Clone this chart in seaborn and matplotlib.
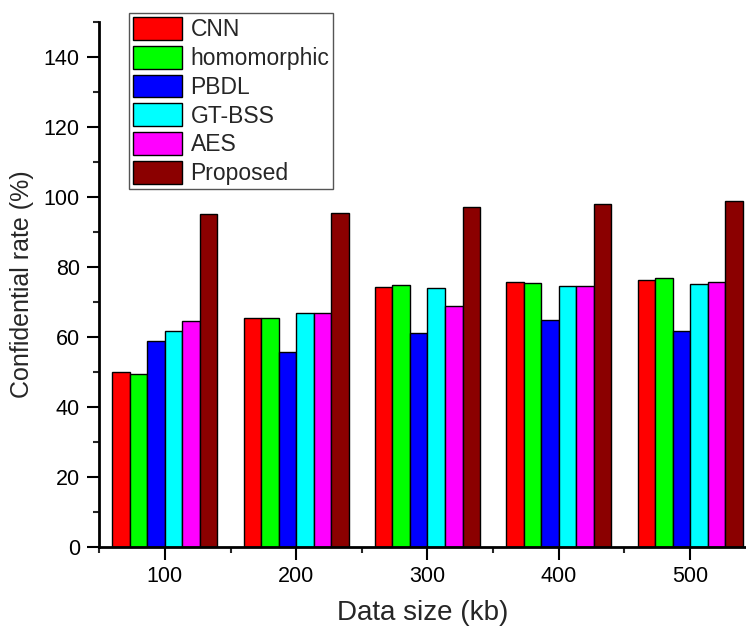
import pandas as pd
import matplotlib.pyplot as plt
import seaborn as sns
from matplotlib.ticker import MultipleLocator

sns.set_theme(style="ticks")
plt.rcParams["font.family"] = ["Liberation Sans", "DejaVu Sans"]

sizes = [100, 200, 300, 400, 500]
methods = ["CNN", "homomorphic", "PBDL", "GT-BSS", "AES", "Proposed"]
cnn = [49.9, 65.4, 74.3, 75.8, 76.2]
homomorphic = [49.5, 65.4, 74.9, 75.4, 76.9]
pbdl = [58.9, 55.8, 61.0, 64.8, 61.7]
gtbss = [61.7, 66.9, 73.9, 74.7, 75.1]
aes = [64.7, 66.9, 68.8, 74.7, 75.7]
proposed = [95.1, 95.4, 97.2, 98.0, 98.8]
colors = ["#FF0000", "#00FF00", "#0000FF", "#00FFFF", "#FF00FF", "#8B0000"]

rows = []
for name, vals in zip(methods, [cnn, homomorphic, pbdl, gtbss, aes, proposed]):
    for s, v in zip(sizes, vals):
        rows.append({"size": s, "rate": v, "method": name})
df = pd.DataFrame(rows)

fig = plt.figure(figsize=(7.46, 6.28), dpi=100)
ax = fig.add_axes([0.133, 0.129, 0.866, 0.836])
sns.barplot(data=df, x="size", y="rate", hue="method", hue_order=methods,
            palette=colors, native_scale=True, width=0.8, saturation=1,
            edgecolor="black", linewidth=1, ax=ax)

ax.set_xlim(50, 542)
ax.set_ylim(0, 150)
ax.set_xticks(sizes)
ax.xaxis.set_minor_locator(MultipleLocator(100, offset=50))
ax.yaxis.set_major_locator(MultipleLocator(20))
ax.yaxis.set_minor_locator(MultipleLocator(10))
ax.tick_params(which="major", length=9, width=1.5, labelsize=15.5, colors="black", pad=5)
ax.tick_params(which="minor", length=4, width=1.5)
sns.despine(ax=ax)
for sp in ["left", "bottom"]:
    ax.spines[sp].set_linewidth(2)
    ax.spines[sp].set_color("black")

ax.set_xlabel("Data size (kb)", fontsize=20, labelpad=9)
ax.set_ylabel("Confidential rate (%)", fontsize=18, labelpad=7)

ax.legend_.remove()
handles, labels = ax.get_legend_handles_labels()
leg = fig.legend(handles, labels, loc="upper left", bbox_to_anchor=(0.173, 0.979),
                 fontsize=16.5, handlelength=2.15, handleheight=1.15, labelspacing=0.2,
                 borderpad=0.18, handletextpad=0.35, borderaxespad=0,
                 fancybox=False, framealpha=1, edgecolor="#555555")
leg.get_frame().set_linewidth(1)

fig.savefig("out.png", dpi=100)
